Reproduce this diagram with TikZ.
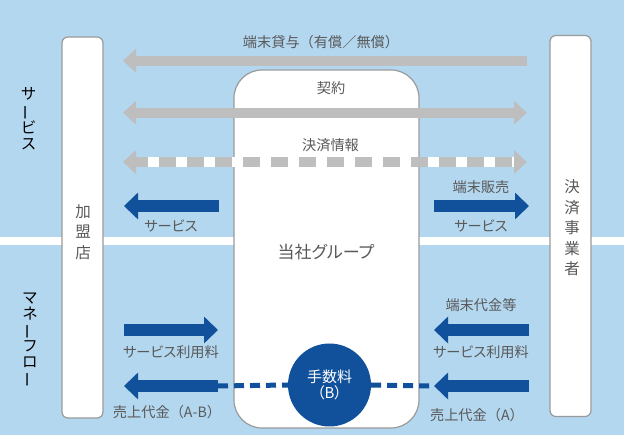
\documentclass[tikz,border=0pt]{standalone}
\usepackage{fontspec}
\setmainfont{Noto Sans CJK JP}[RawFeature=+palt]
\newfontfamily\fullwidth{Noto Sans CJK JP}
\newcommand\jlp{{\fullwidth （}}
\newcommand\jrp{{\fullwidth ）}}
\usetikzlibrary{arrows.meta}
\definecolor{bgblue}{HTML}{B3D7EF}
\definecolor{flowblue}{HTML}{11519B}
\definecolor{arrowgray}{HTML}{BEBEBE}
\definecolor{textgray}{HTML}{595959}
\definecolor{boxgray}{HTML}{9A9A9A}

\begin{document}
\begin{tikzpicture}[x=1pt,y=-1pt]
        \tikzset{party/.style={draw=boxgray,line width=1.2pt,fill=white,rounded corners=6pt,
                minimum width=41pt,minimum height=381pt,inner sep=0pt},
            lbl/.style={text=textgray,font=\fontsize{14.2}{16}\selectfont,inner sep=0pt},
            vlbl/.style={text=textgray,font=\fontsize{15.5}{20.5}\selectfont,align=center,inner sep=0pt},
            side/.style={text=black,font=\fontsize{15.5}{16}\selectfont,align=center,inner sep=0pt},
            grayarrow/.style={draw=arrowgray,line width=10pt,-{Triangle[length=13pt,width=23pt]}},
            bluearrow/.style={draw=flowblue,line width=12.5pt,-{Triangle[length=14pt,width=26pt]}}}
        \fill[bgblue] (0,0) rectangle (624,435);
        \fill[white] (0,237.5) rectangle (624,245.5);
        \useasboundingbox (0,0) rectangle (624,435);
        % parties
        \node[party] (shop) at (82.5,227.5) {};
        \node[party] (payer) at (570.5,226) {};
        \node[party,rounded corners=28pt,minimum width=185pt,minimum height=358pt] (grp) at (326.5,249) {};
        \node[vlbl] (shoplbl) at (83,232) {加\\盟\\店};
        \node[vlbl] (payerlbl) at (572,228) {決\\済\\事\\業\\者};
        \node[text=textgray,font=\fontsize{17}{17}\selectfont,inner sep=0pt] (grplbl) at (326,252) {当社グループ};
        \node[side] (svclbl) at (28.5,119) {サ\\\rotatebox[origin=c]{90}{ー}\\ビ\\ス};
        \node[side] (moneylbl) at (30,340) {マ\\ネ\\\rotatebox[origin=c]{90}{ー}\\フ\\ロ\\\rotatebox[origin=c]{90}{ー}};
        % service flows
        \coordinate (lendR) at (527,60.7);
        \coordinate (lendL) at (123,60.7);
        \coordinate (ctrR) at (527,112.7);
        \coordinate (ctrL) at (123,112.7);
        \coordinate (infoR) at (527,162);
        \coordinate (infoL) at (123,162);
        \draw[grayarrow] (lendR) -- (lendL);
        \draw[grayarrow,{Triangle[length=13pt,width=23pt]}-{Triangle[length=13pt,width=23pt]}] (ctrL) -- (ctrR);
        \draw[white,line width=10pt,shorten <=13pt,shorten >=13pt] (infoL) -- (infoR);
        \draw[grayarrow,{Triangle[length=13pt,width=23pt]}-{Triangle[length=13pt,width=23pt]},
            dash pattern=on 17pt off 11pt,dash phase=4pt] (infoL) -- (infoR);
        \node[lbl] (lendlbl) at (321,42) {端末貸与\jlp 有償／無償\jrp};
        \node[lbl] (ctrlbl) at (331,88) {契約};
        \node[lbl] (infolbl) at (330.5,145) {決済情報};
        \coordinate (svlA) at (218.5,206);
        \coordinate (svlB) at (124,206);
        \coordinate (svrA) at (434,206);
        \coordinate (svrB) at (529,206);
        \draw[bluearrow] (svlA) -- (svlB);
        \draw[bluearrow] (svrA) -- (svrB);
        \node[lbl] (svllbl) at (171,226) {サービス};
        \node[lbl] (sellbl) at (481,187) {端末販売};
        \node[lbl] (svrlbl) at (481,226) {サービス};
        % money flows
        \node[circle,fill=flowblue,minimum size=83pt,inner sep=0pt,text=white,align=center,
            font=\fontsize{15}{16}\selectfont] (fee) at (329.5,385) {手数料\\（B）};
        \coordinate (ml1A) at (124,330);
        \coordinate (ml1B) at (218,330);
        \coordinate (ml2A) at (218,386);
        \coordinate (ml2B) at (124,386);
        \coordinate (mr1A) at (529,330);
        \coordinate (mr1B) at (434,330);
        \coordinate (mr2A) at (529,386);
        \coordinate (mr2B) at (434,386);
        \draw[flowblue,line width=5pt,dash pattern=on 10pt off 6pt] (ml2A) -- (fee.west);
        \draw[flowblue,line width=5pt,dash pattern=on 10pt off 6pt] (fee.east) -- (mr2B);
        \draw[bluearrow] (ml1A) -- (ml1B);
        \draw[bluearrow] (ml2A) -- (ml2B);
        \draw[bluearrow] (mr1A) -- (mr1B);
        \draw[bluearrow] (mr2A) -- (mr2B);
        \node[lbl] (fee1lbl) at (171,352) {サービス利用料};
        \node[lbl] (salelbl) at (167,412) {売上代金\jlp A-B\jrp};
        \node[lbl] (devlbl) at (481,305) {端末代金等};
        \node[lbl] (fee2lbl) at (481,352) {サービス利用料};
        \node[lbl] (salerlbl) at (477,415) {売上代金\jlp A\jrp};
\end{tikzpicture}
\end{document}
